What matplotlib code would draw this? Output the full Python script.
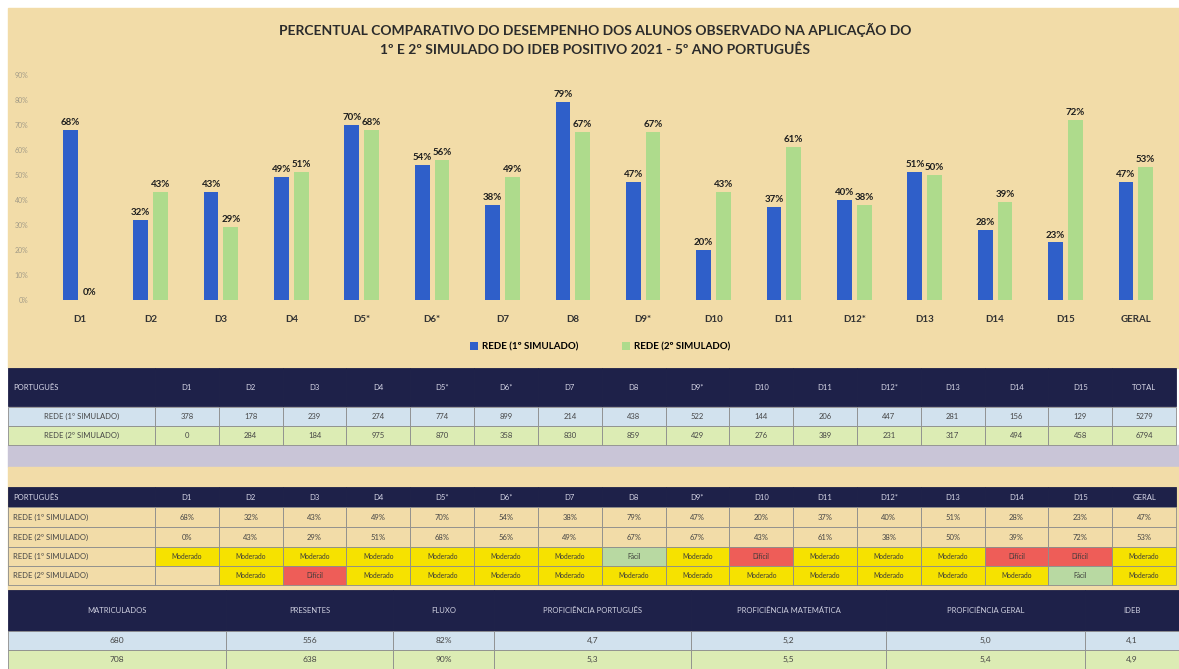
import matplotlib.pyplot as plt
from matplotlib.patches import Rectangle
import numpy as np

plt.rcParams["font.family"] = ["Lato", "DejaVu Sans"]

# ----------------------------------------------------------------------
# dados
# ----------------------------------------------------------------------
categorias = ["D1", "D2", "D3", "D4", "D5*", "D6*", "D7", "D8", "D9*", "D10",
              "D11", "D12*", "D13", "D14", "D15", "GERAL"]
simulado_1 = [68, 32, 43, 49, 70, 54, 38, 79, 47, 20, 37, 40, 51, 28, 23, 47]
simulado_2 = [0, 43, 29, 51, 68, 56, 49, 67, 67, 43, 61, 38, 50, 39, 72, 53]

descritores = ["D1", "D2", "D3", "D4", "D5*", "D6*", "D7", "D8", "D9*", "D10",
               "D11", "D12*", "D13", "D14", "D15"]
acertos_1 = [378, 178, 239, 274, 774, 899, 214, 438, 522, 144, 206, 447, 281, 156, 129]
acertos_2 = [0, 284, 184, 975, 870, 358, 830, 859, 429, 276, 389, 231, 317, 494, 458]
totais = [5279, 6794]

nivel_1 = ["Moderado"] * 7 + ["Fácil", "Moderado", "Difícil", "Moderado",
                              "Moderado", "Moderado", "Difícil", "Difícil", "Moderado"]
nivel_2 = ["", "Moderado", "Difícil"] + ["Moderado"] * 11 + ["Fácil", "Moderado"]

resumo_cols = ["MATRICULADOS", "PRESENTES", "FLUXO", "PROFICIÊNCIA PORTUGUÊS",
               "PROFICIÊNCIA MATEMÁTICA", "PROFICIÊNCIA GERAL", "IDEB"]
resumo_1 = ["680", "556", "82%", "4,7", "5,2", "5,0", "4,1"]
resumo_2 = ["708", "638", "90%", "5,3", "5,5", "5,4", "4,9"]

rotulo_1 = "REDE (1º SIMULADO)"
rotulo_2 = "REDE (2º SIMULADO)"

# ----------------------------------------------------------------------
# cores
# ----------------------------------------------------------------------
BEGE = "#f2dca8"
AZUL = "#2f5fc9"
VERDE = "#aedb8c"
NAVY = "#1e2149"
LINHA_AZUL = "#d2e2ee"
LINHA_VERDE = "#dcecb4"
CINZA = "#c9c5d7"
COR_NIVEL = {"Moderado": "#f6e200", "Fácil": "#b8d9a2", "Difícil": "#ee5d58", "": BEGE}
TXT = "#454545"

W, H = 1179, 669
fig = plt.figure(figsize=(W / 100, H / 100), dpi=100)
fig.patch.set_facecolor("white")

# eixo de fundo em pixels
bg = fig.add_axes([0, 0, 1, 1])
bg.set_xlim(0, W)
bg.set_ylim(H, 0)
bg.axis("off")

bg.add_patch(Rectangle((8, 8), W - 8, 360, color=BEGE, zorder=0))
bg.add_patch(Rectangle((8, 445), W - 8, 22, color=CINZA, zorder=0))
bg.add_patch(Rectangle((8, 467), W - 8, 123, color=BEGE, zorder=0))


def celula(x0, y0, w, h, texto, fc, tc=TXT, fs=5.5, ha="center", ec="#8c8c8c", bold=False):
    bg.add_patch(Rectangle((x0, y0), w, h, facecolor=fc, edgecolor=ec, lw=0.6, zorder=1))
    tx = x0 + w / 2 if ha == "center" else x0 + 5
    bg.text(tx, y0 + h / 2, texto, ha=ha, va="center", fontsize=fs, color=tc,
            fontweight="bold" if bold else "normal", zorder=2)


# colunas das tabelas 1 e 2
X0, X1, XEND = 8, 155, 1176
cw = (XEND - X1) / 16
xs = [X1 + i * cw for i in range(16)]

# ---- tabela 1: acertos ----
y = 368
celula(X0, y, X1 - X0, 38, "PORTUGUÊS", NAVY, "#d8d8e8", ha="left", ec=NAVY)
for i, c in enumerate(descritores + ["TOTAL"]):
    celula(xs[i], y, cw, 38, c, NAVY, "#d8d8e8", ec=NAVY)
linhas = [(rotulo_1, acertos_1 + [totais[0]], LINHA_AZUL),
          (rotulo_2, acertos_2 + [totais[1]], LINHA_VERDE)]
y = 407
for rot, vals, cor in linhas:
    celula(X0, y, X1 - X0, 19, rot, cor)
    for i, v in enumerate(vals):
        celula(xs[i], y, cw, 19, str(v), cor)
    y += 19

# ---- tabela 2: percentuais e níveis ----
y = 487
celula(X0, y, X1 - X0, 20, "PORTUGUÊS", NAVY, "#d8d8e8", ha="left", ec=NAVY)
for i, c in enumerate(categorias):
    celula(xs[i], y, cw, 20, c, NAVY, "#d8d8e8", ec=NAVY)
y = 507
for rot, vals in [(rotulo_1, simulado_1), (rotulo_2, simulado_2)]:
    celula(X0, y, X1 - X0, 20, rot, BEGE, ha="left")
    for i, v in enumerate(vals):
        celula(xs[i], y, cw, 20, f"{v}%", BEGE)
    y += 20
for rot, niveis in [(rotulo_1, nivel_1), (rotulo_2, nivel_2)]:
    celula(X0, y, X1 - X0, 19, rot, BEGE, ha="left")
    for i, n in enumerate(niveis):
        celula(xs[i], y, cw, 19, n, COR_NIVEL[n], "#3a3a3a", fs=4.8)
    y += 19

# ---- tabela 3: resumo ----
bordas = [8, 226, 393, 494, 691, 886, 1085, 1179]
y = 590
for i, c in enumerate(resumo_cols):
    celula(bordas[i], y, bordas[i + 1] - bordas[i], 41, c, NAVY, "#cfd0e0", ec=NAVY)
y = 631
for vals, cor in [(resumo_1, LINHA_AZUL), (resumo_2, LINHA_VERDE)]:
    for i, v in enumerate(vals):
        celula(bordas[i], y, bordas[i + 1] - bordas[i], 19, v, cor, fs=6)
    y += 19

# ----------------------------------------------------------------------
# gráfico de barras
# ----------------------------------------------------------------------
ax = fig.add_axes([45 / W, (H - 300) / H, 1126 / W, 225 / H])
ax.patch.set_alpha(0)
x = np.arange(len(categorias))
bw = 0.21
ax.bar(x - 0.14, simulado_1, bw, color=AZUL, label=rotulo_1)
ax.bar(x + 0.14, simulado_2, bw, color=VERDE, label=rotulo_2)
for xi, v in zip(x, simulado_1):
    ax.text(xi - 0.14, v + 1.2, f"{v}%", ha="center", va="bottom",
            fontsize=7, fontweight="bold", color="#1e1e1e")
for xi, v in zip(x, simulado_2):
    ax.text(xi + 0.14, v + 1.2, f"{v}%", ha="center", va="bottom",
            fontsize=7, fontweight="bold", color="#1e1e1e")

ax.set_xlim(-0.5, 15.5)
ax.set_ylim(0, 90)
ax.set_yticks(range(0, 91, 10))
ax.set_yticklabels([f"{v}%" for v in range(0, 91, 10)], fontsize=5, color="#a39c88")
ax.set_xticks(x)
ax.set_xticklabels(categorias, fontsize=7, fontweight="bold", color="#333333")
ax.tick_params(axis="both", length=0)
ax.tick_params(axis="x", pad=11)
ax.tick_params(axis="y", pad=12)
for s in ax.spines.values():
    s.set_visible(False)

fig.legend(loc="center", bbox_to_anchor=(600 / W, 1 - 347 / H), ncol=2, frameon=False,
           prop={"weight": "bold", "size": 7}, handlelength=0.8,
           handleheight=0.8, columnspacing=4.5, handletextpad=0.4)

fig.text(595 / W, 1 - 30 / H,
         "PERCENTUAL COMPARATIVO DO DESEMPENHO DOS ALUNOS OBSERVADO NA APLICAÇÃO DO",
         ha="center", va="center", fontsize=10, fontweight="bold", color="#2b2b2b")
fig.text(595 / W, 1 - 50 / H,
         "1º E 2º SIMULADO DO IDEB POSITIVO 2021 - 5º ANO PORTUGUÊS",
         ha="center", va="center", fontsize=10, fontweight="bold", color="#2b2b2b")

fig.savefig("out.png", dpi=100)
